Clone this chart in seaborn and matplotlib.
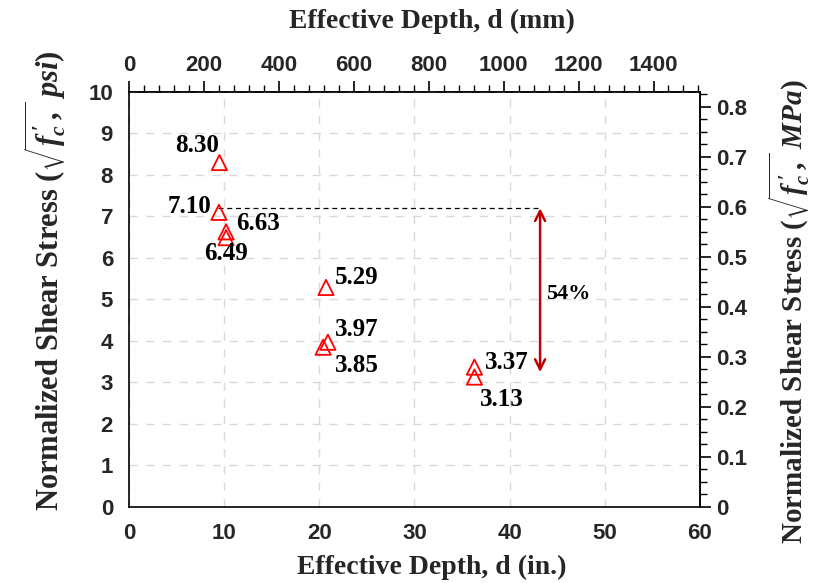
import matplotlib
matplotlib.use('Agg')
import matplotlib.pyplot as plt
import seaborn as sns
import pandas as pd
from matplotlib.ticker import MultipleLocator, AutoMinorLocator, FuncFormatter
from matplotlib.font_manager import FontProperties

# data
depth_in = [9.5, 9.45, 10.2, 10.2, 20.7, 20.9, 20.4, 36.3, 36.3]
stress_psi = [8.30, 7.10, 6.63, 6.49, 5.29, 3.97, 3.85, 3.37, 3.13]
labels = ['8.30', '7.10', '6.63', '6.49', '5.29', '3.97', '3.85', '3.37', '3.13']
# label positions (x, y) in data units
label_x = [7.1, 6.4, 13.6, 10.2, 23.9, 23.9, 23.9, 39.7, 39.2]
label_y = [8.72, 7.25, 6.84, 6.12, 5.54, 4.27, 3.42, 3.49, 2.58]

# reduction arrow
ref_y = 7.2
low_y = 3.25
arrow_x = 43.2
line_x0 = 9.4
pct_text = '54%'

df = pd.DataFrame({'d': depth_in, 'v': stress_psi})

sns.set_theme(style='white')
plt.rcParams['font.family'] = ['Liberation Sans', 'DejaVu Sans']
plt.rcParams['mathtext.fontset'] = 'custom'
plt.rcParams['mathtext.rm'] = 'Liberation Serif:bold'
plt.rcParams['mathtext.it'] = 'Liberation Serif:italic:bold'
plt.rcParams['mathtext.bf'] = 'Liberation Serif:bold'

fig = plt.figure(figsize=(8.18, 5.83), dpi=100)
ax = fig.add_axes([0.1577, 0.1304, 0.698, 0.7118])

sns.scatterplot(data=df, x='d', y='v', marker='^', s=120, facecolor='none',
                edgecolor='red', linewidth=1.3, ax=ax, zorder=3)

ax.set_xlim(0, 60)
ax.set_ylim(0, 10)
ax.xaxis.set_major_locator(MultipleLocator(10))
ax.xaxis.set_minor_locator(AutoMinorLocator(5))
ax.yaxis.set_major_locator(MultipleLocator(1))
ax.yaxis.set_minor_locator(AutoMinorLocator(4))
ax.grid(True, which='major', color='#d9d9d9', linestyle=(0, (6, 6)), linewidth=1)

for sp in ax.spines.values():
    sp.set_color('black')
    sp.set_linewidth(1.2)

tick_font = FontProperties(family='Liberation Sans', weight='bold', size=16)
label_font = dict(family='Liberation Serif', weight='bold', size=20)
ylab_font = dict(family='Liberation Serif', weight='bold', size=22)
ylab_font_r = dict(family='Liberation Serif', weight='bold', size=21)

def style_axis(a, axis):
    a.tick_params(axis=axis, which='major', direction='out', length=8, width=1.2, color='black')
    a.tick_params(axis=axis, which='minor', direction='out', length=5, width=1, color='black')

style_axis(ax, 'both')
for t in ax.get_xticklabels() + ax.get_yticklabels():
    t.set_fontproperties(tick_font)

ax.set_xlabel('Effective Depth, d (in.)', fontdict=label_font, va='center', ha='center')
ax.xaxis.set_label_coords(0.531, -0.145, transform=ax.transAxes)
ax.set_ylabel(r"Normalized Shear Stress ($\sqrt{f^{\,\prime}_{c}\,,}\;psi$)",
              fontdict=ylab_font, va='center', ha='center')
ax.yaxis.set_label_coords(-0.147, 0.545, transform=ax.transAxes)

top = ax.secondary_xaxis('top', functions=(lambda x: x * 25.4, lambda x: x / 25.4))
top.xaxis.set_major_locator(MultipleLocator(200))
top.xaxis.set_minor_locator(AutoMinorLocator(5))
style_axis(top, 'x')
for t in top.get_xticklabels():
    t.set_fontproperties(tick_font)
top.set_xlabel('Effective Depth, d (mm)', fontdict=label_font, va='center', ha='center')
top.xaxis.set_label_coords(0.531, 1.17, transform=ax.transAxes)

right = ax.secondary_yaxis('right', functions=(lambda y: y * 0.083, lambda y: y / 0.083))
right.yaxis.set_major_locator(MultipleLocator(0.1))
right.yaxis.set_minor_locator(AutoMinorLocator(4))
style_axis(right, 'y')
right.yaxis.set_major_formatter(FuncFormatter(lambda v, p: '0' if abs(v) < 1e-9 else f'{v:.1f}'))
for t in right.get_yticklabels():
    t.set_fontproperties(tick_font)
right.set_ylabel(r"Normalized Shear Stress ($\sqrt{f^{\,\prime}_{c}\,,}\;MPa$)",
                 fontdict=ylab_font_r, va='center', ha='center')
right.yaxis.set_label_coords(1.157, 0.47, transform=ax.transAxes)

# value labels
for lx, ly, s in zip(label_x, label_y, labels):
    ax.text(lx, ly, s, ha='center', va='center', family='Liberation Serif',
            weight='bold', size=18, color='black')

# dashed reference and arrow
ax.plot([line_x0, arrow_x], [ref_y, ref_y], color='black', linestyle=(0, (4, 3)), linewidth=0.9)
ax.annotate('', xy=(arrow_x, low_y), xytext=(arrow_x, ref_y),
            arrowprops=dict(arrowstyle='<->', color='#c00000', lw=1.8,
                            mutation_scale=18, shrinkA=0, shrinkB=0))
ax.text(arrow_x + 0.6, 5.13, pct_text, ha='left', va='center', family='Liberation Serif',
        weight='bold', size=16, color='black')

fig.savefig('out.png', dpi=100)
